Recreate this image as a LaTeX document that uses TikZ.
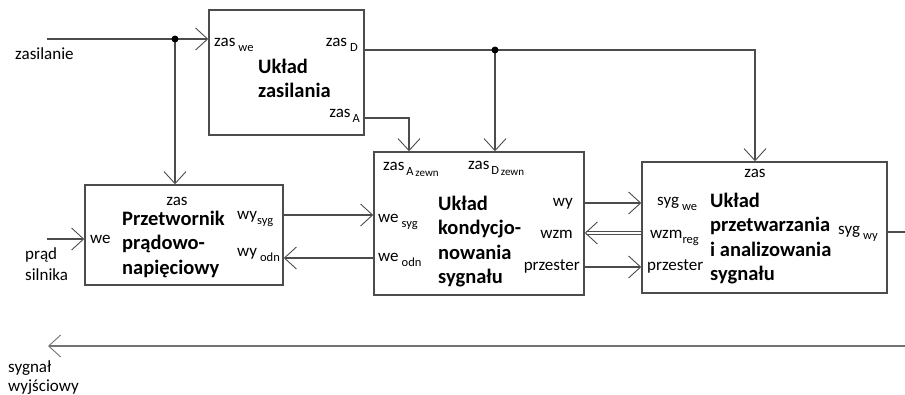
\documentclass[tikz,border=0pt]{standalone}
\usepackage{fontspec}
\setmainfont{Carlito}
\usetikzlibrary{arrows.meta}
\newcommand\lsub[2][3pt]{\hspace{#1}\raisebox{-5pt}{\fontsize{12.5}{12.5}\selectfont #2}}

\begin{document}
\begin{tikzpicture}[x=1pt,y=-1pt,>={Straight Barb[length=12pt,width=22pt,line width=0.9pt]}]
\tikzstyle{blk}=[draw=black!70,line width=1.5pt,inner sep=0pt]
\tikzstyle{lbl}=[inner sep=0pt,font=\fontsize{17}{20}\selectfont]
\tikzstyle{ttl}=[inner sep=0pt,align=left,font=\bfseries\fontsize{20.5}{24.5}\selectfont]
\tikzstyle{conn}=[draw=black!70,line width=1.2pt]
\useasboundingbox (0,0) rectangle (905,394);
% bloki
\node[blk,minimum width=155pt,minimum height=125pt] (zs) at (286.5,72.5) {};
\node[blk,minimum width=198pt,minimum height=100pt] (pp) at (184,235) {};
\node[blk,minimum width=210pt,minimum height=143pt] (kd) at (479,223.5) {};
\node[blk,minimum width=245pt,minimum height=131pt] (pa) at (764.5,227.5) {};
% uklad zasilania (base = ostatnia linia)
\node[lbl,anchor=base west] (zswe) at (214,46) {zas\lsub{we}}; \node[lbl,anchor=base east] (zsd) at (358,46) {zas\lsub{D}};
\node[ttl,anchor=base west] (zst) at (258,97.5) {Układ\\zasilania};
\node[lbl,anchor=base east] (zsa) at (360,117) {zas\lsub[2pt]{A}};
% przetwornik
\node[lbl,anchor=base] (ppzas) at (177,205) {zas}; \node[lbl,anchor=base west] (ppwe) at (90,243) {we};
\node[ttl,anchor=base west] (ppt) at (122,274) {Przetwornik\\prądowo-\\napięciowy};
\node[lbl,anchor=base west] (ppsyg) at (237,219) {wy\lsub[0pt]{syg}}; \node[lbl,anchor=base west] (ppodn) at (237,256) {wy\lsub{odn}};
% kondycjonowanie
\node[lbl,anchor=base west] (kdza) at (383,170) {zas\lsub[2pt]{A\raisebox{-1pt}{\fontsize{11}{11}\selectfont\,zewn}}};
\node[lbl,anchor=base west] (kdzd) at (468,169) {zas\lsub[2pt]{D\raisebox{-1pt}{\fontsize{11}{11}\selectfont\,zewn}}};
\node[lbl,anchor=base west] (kdsyg) at (378,222) {we\lsub{syg}}; \node[lbl,anchor=base west] (kdodn) at (378,261) {we\lsub{odn}};
\node[ttl,anchor=base west] (kdt) at (438,283.5) {Układ\\kondycjo-\\nowania\\sygnału};
\node[lbl,anchor=base east] (kdwy) at (573,206) {wy}; \node[lbl,anchor=base east] (kdwzm) at (573,238) {wzm};
\node[lbl,anchor=base east] (kdprz) at (580,270) {przester};
% przetwarzanie
\node[lbl,anchor=base] (pazas) at (755,177) {zas};
\node[lbl,anchor=base west] (pawe) at (657,205) {syg\lsub{we}}; \node[lbl,anchor=base west] (pareg) at (650,238) {wzm\lsub[0pt]{reg}};
\node[lbl,anchor=base west] (paprz) at (647,270) {przester};
\node[ttl,anchor=base west] (pat) at (710,280.5) {Układ\\przetwarzania\\i analizowania\\sygnału};
\node[lbl,anchor=base west] (pawy) at (838,234) {syg\lsub{wy}};
% wejscia i wyjscia
\node[lbl,anchor=base west] (tzas) at (15,59) {zasilanie};
\node[lbl,anchor=base west,align=left,font=\fontsize{17}{21}\selectfont] (tprad) at (25,280) {prąd\\silnika};
\node[lbl,anchor=base west,align=left,font=\fontsize{17}{19}\selectfont] (tsyg) at (8,391) {sygnał\\wyjściowy};
\coordinate (zin) at (47,39); \coordinate (pin) at (47,239); \coordinate (j1) at (175,39); \coordinate (j2) at (495,50);
\coordinate (cd) at (755,50); \coordinate (ca) at (409,118); \coordinate (sout) at (905,232);
\coordinate (bin) at (905,346); \coordinate (bout) at (48,346);
% zasilanie
\draw[conn,->] (zin) -- (zs.west |- zin); \draw[conn,->] (j1) -- (j1 |- pp.north);
\draw[conn,->] (zs.east |- cd) -- (cd) -- (cd |- pa.north); \draw[conn,->] (j2) -- (j2 |- kd.north);
\draw[conn,->] (zs.east |- ca) -- (ca) -- (ca |- kd.north);
\fill (j1) circle (3.5pt); \fill (j2) circle (3.5pt);
% sygnaly
\draw[conn,->] (pin) -- (pp.west |- pin);
\draw[conn,->] (pp.east |- 0,215) -- (kd.west |- 0,215); \draw[conn,->] (kd.west |- 0,258) -- (pp.east |- 0,258);
\draw[conn,->] (kd.east |- 0,203) -- (pa.west |- 0,203); \draw[conn,->] (kd.east |- 0,267) -- (pa.west |- 0,267);
\draw[conn,line width=0.9pt,double=white,double distance=2.6pt,->] (pa.west |- 0,233) -- (kd.east |- 0,233);
\draw[conn] (pa.east |- sout) -- (sout); \draw[conn,draw=black!55,->] (bin) -- (bout);
\end{tikzpicture}
\end{document}
